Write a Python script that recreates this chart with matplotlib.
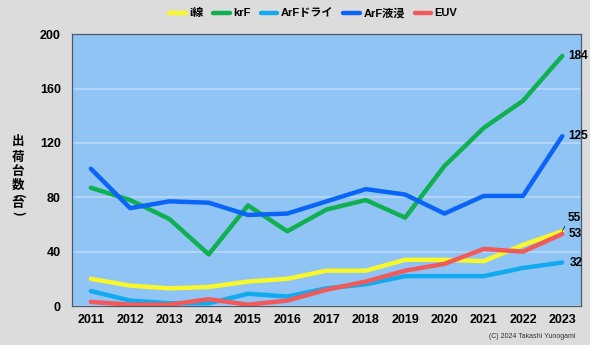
import matplotlib
matplotlib.use("Agg")
import matplotlib.pyplot as plt

years = [2011, 2012, 2013, 2014, 2015, 2016, 2017, 2018, 2019, 2020, 2021, 2022, 2023]
i_line = [20, 15, 13, 14, 18, 20, 26, 26, 34, 34, 33, 45, 55]
krf = [87, 78, 64, 38, 74, 55, 71, 78, 65, 103, 131, 151, 184]
arf_dry = [11, 4, 2, 2, 9, 7, 13, 16, 22, 22, 22, 28, 32]
arf_imm = [101, 72, 77, 76, 67, 68, 77, 86, 82, 68, 81, 81, 125]
euv = [3, 1, 1, 5, 1, 4, 12, 18, 26, 31, 42, 40, 53]
names = ["i線", "krF", "ArFドライ", "ArF液浸", "EUV"]
yticks = [0, 40, 80, 120, 160, 200]
ylabel_chars = ["出", "荷", "台", "数", "(", "台", ")"]

fam = ["Liberation Sans", "Noto Sans CJK JP", "DejaVu Sans"]
plt.rcParams["font.family"] = fam

fig = plt.figure(figsize=(5.9, 3.45), dpi=100, facecolor="#dcdcdc")
ax = fig.add_axes([0.122, 0.113, 0.863, 0.788])
ax.set_facecolor("#8fc4f5")

series = [i_line, krf, arf_dry, arf_imm, euv]
colors = ["#f7f72a", "#10b050", "#12aaee", "#0a64f5", "#f05a5a"]
x = list(range(len(years)))
zorders = [3, 4, 3, 4, 5]
for s, c, n, z in zip(series, colors, names, zorders):
    ax.plot(x, s, color=c, lw=3.2, label=n, solid_capstyle="round", zorder=z)

ax.set_xlim(-0.48, 12.48)
ax.set_ylim(0, 200)
ax.set_yticks(yticks)
ax.set_yticklabels([str(t) for t in yticks], fontsize=9, fontweight="bold")
ax.set_xticks(x)
ax.set_xticklabels([str(y) for y in years], fontsize=9, fontweight="bold")
ax.tick_params(length=0, pad=8)
ax.tick_params(axis="x", pad=6)
ax.grid(axis="y", color="#b8d8f8", lw=1.2)
ax.set_axisbelow(True)
for sp in ax.spines.values():
    sp.set_color("#4a5a6a")
    sp.set_linewidth(0.9)

lab_kw = dict(va="center", ha="left", fontsize=8.5, fontweight="bold", annotation_clip=False)
ax.annotate(str(krf[-1]), (12, krf[-1]), xytext=(12.15, krf[-1]), **lab_kw)
ax.annotate(str(arf_imm[-1]), (12, arf_imm[-1]), xytext=(12.15, arf_imm[-1]), **lab_kw)
ax.annotate(str(i_line[-1]), (12, i_line[-1]), xytext=(12.13, 65), **lab_kw,
            arrowprops=dict(arrowstyle="-", color="#222222", lw=0.6, shrinkA=0, shrinkB=0,
                            relpos=(0.0, 0.2)))
ax.annotate(str(euv[-1]), (12, euv[-1]), xytext=(12.15, 53), **lab_kw)
ax.annotate(str(arf_dry[-1]), (12, arf_dry[-1]), xytext=(12.2, arf_dry[-1]), **lab_kw)

# vertical y-axis label, one character at a time (parentheses turned for vertical writing)
ypos = [142, 157, 171, 185, 196, 204, 213]
for ch, py in zip(ylabel_chars, ypos):
    rot = -90 if ch in "()" else 0
    fig.text(18 / 590, 1 - py / 345, ch, ha="center", va="center", fontsize=9,
             fontweight="bold", rotation=rot, rotation_mode="anchor",
             family=["Noto Sans CJK JP", "DejaVu Sans"])

fig.legend(loc="center", bbox_to_anchor=(0.531, 0.962), ncol=5, frameon=False,
           handlelength=1.5, handletextpad=0.3, columnspacing=0.9,
           prop=dict(family=fam, weight="bold", size=8))

fig.text(0.975, 0.025, "(C) 2024 Takashi Yunogami", ha="right", va="center", fontsize=5,
         color="#333333")

fig.savefig("out.png", dpi=100, facecolor=fig.get_facecolor())
